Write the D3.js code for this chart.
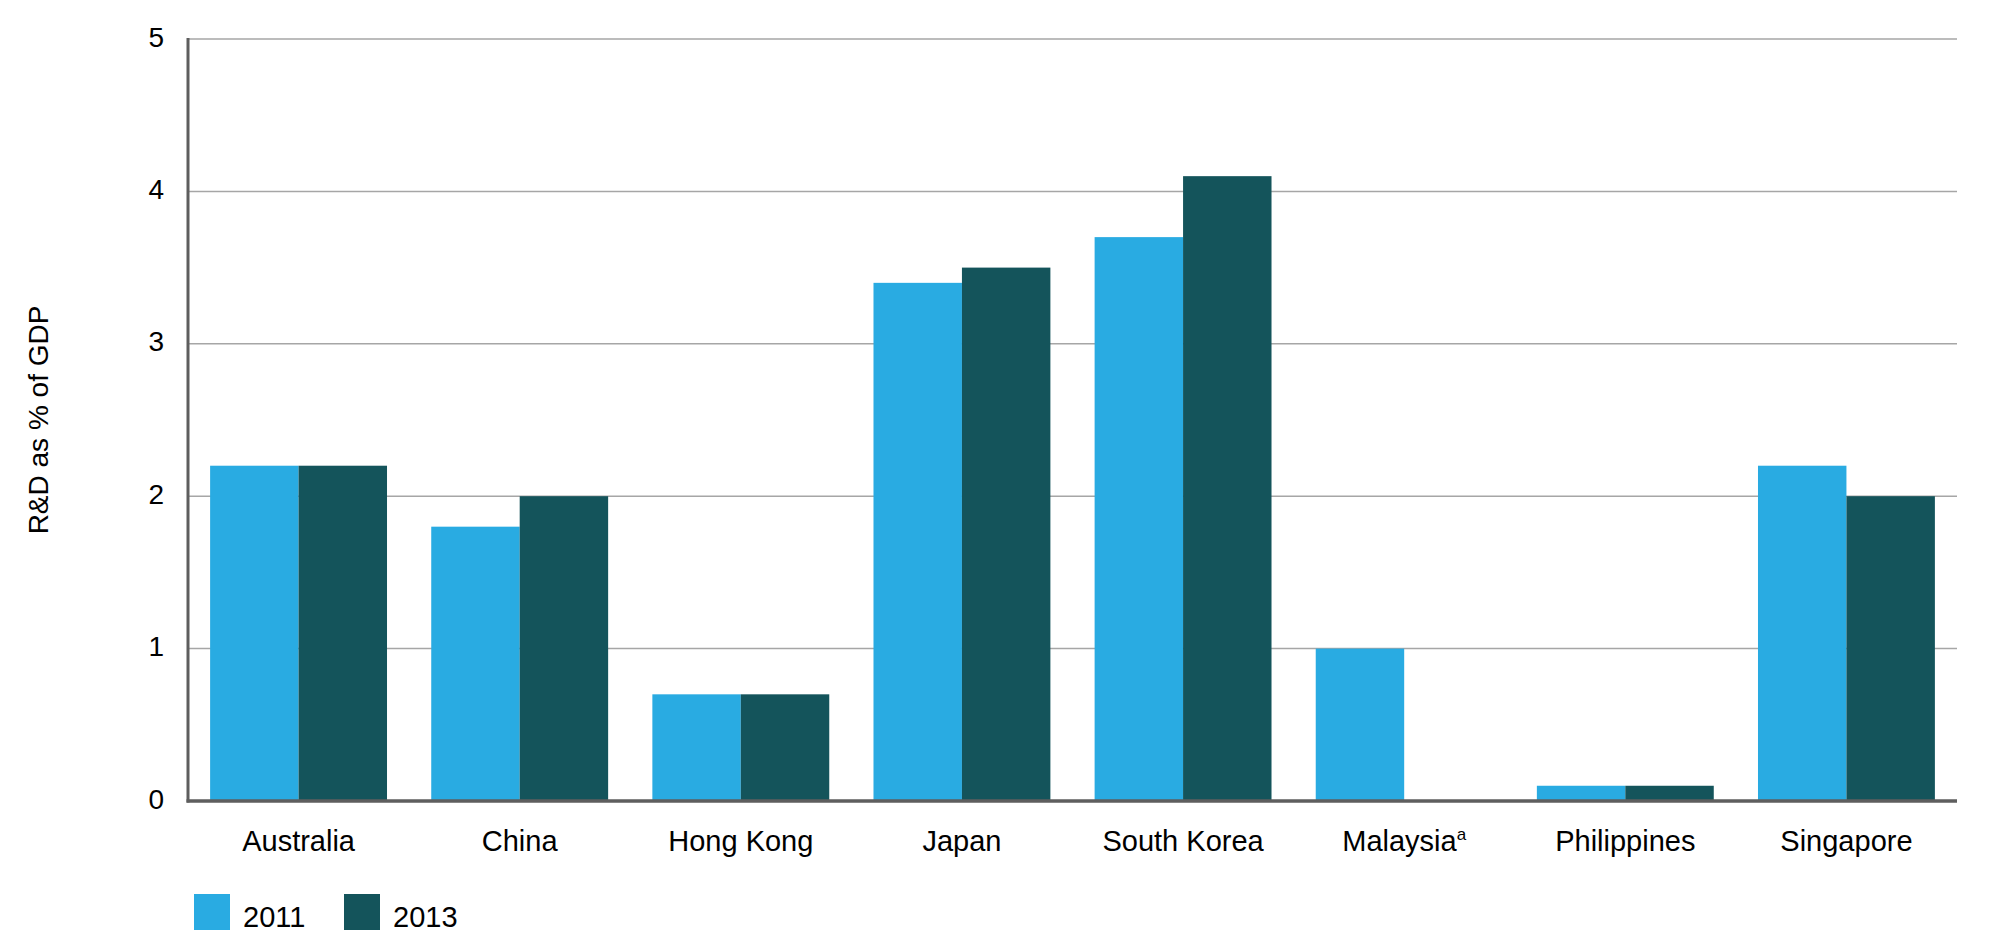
<!DOCTYPE html>
<html>
<head>
<meta charset="utf-8">
<script src="https://cdn.jsdelivr.net/npm/d3@7"></script>
<style>
  html, body { margin: 0; padding: 0; background: #ffffff; }
  svg { display: block; font-family: "Liberation Sans", Arial, Helvetica, sans-serif; }
</style>
</head>
<body>
<svg id="chart" width="2009" height="947"></svg>
<script>
const categories = ["Australia", "China", "Hong Kong", "Japan", "South Korea", "Malaysia", "Philippines", "Singapore"];
const footnotes = ["", "", "", "", "", "a", "", ""];
const seriesNames = ["2011", "2013"];
const values2011 = [2.2, 1.8, 0.7, 3.4, 3.7, 1.0, 0.1, 2.2];
const values2013 = [2.2, 2.0, 0.7, 3.5, 4.1, null, 0.1, 2.0];
const yTicks = [0, 1, 2, 3, 4, 5];
const yLabel = "R&D as % of GDP";
const colors = ["#29abe2", "#14545b"];

const svg = d3.select("#chart");
const margin = { left: 188, right: 2009 - 1957, top: 39, bottom: 947 - 801 };
const W = 2009, H = 947;

const x = d3.scaleBand().domain(categories)
  .range([margin.left, W - margin.right])
  .paddingInner(0.2).paddingOuter(0.1);
const xs = d3.scaleBand().domain(seriesNames).range([0, x.bandwidth()]).padding(0);
const y = d3.scaleLinear().domain([0, 5]).range([H - margin.bottom, margin.top]);

// gridlines
svg.append("g").selectAll("line").data(yTicks.filter(d => d > 0)).join("line")
  .attr("x1", margin.left).attr("x2", W - margin.right)
  .attr("y1", d => y(d)).attr("y2", d => y(d))
  .attr("stroke", "#a6a6a6").attr("stroke-width", 1.5);

// bars
const rows = categories.map((c, i) => ({ c, vals: [values2011[i], values2013[i]] }));
const g = svg.append("g").selectAll("g").data(rows).join("g")
  .attr("transform", d => `translate(${x(d.c)},0)`);
g.selectAll("rect").data(d => d.vals.map((v, j) => ({ v, s: seriesNames[j], j })).filter(e => e.v != null))
  .join("rect")
  .attr("x", e => xs(e.s))
  .attr("width", xs.bandwidth())
  .attr("y", e => y(e.v))
  .attr("height", e => y(0) - y(e.v))
  .attr("fill", e => colors[e.j]);

// y axis
const yAxis = d3.axisLeft(y).tickValues(yTicks).tickSize(0).tickPadding(24).tickFormat(d3.format("d"));
const ya = svg.append("g").attr("transform", `translate(${margin.left},0)`).call(yAxis);
ya.select(".domain").remove();
ya.selectAll("text").attr("font-size", 28).attr("fill", "#000")
  .attr("font-family", "Liberation Sans, Arial, sans-serif")
  .attr("dy", "0.25em");
svg.append("line").attr("x1", margin.left).attr("x2", margin.left)
  .attr("y1", y(5) - 1).attr("y2", y(0) + 1.5)
  .attr("stroke", "#5e5e5e").attr("stroke-width", 3);

// x axis
const xAxis = d3.axisBottom(x).tickSize(0).tickPadding(0);
const xa = svg.append("g").attr("transform", `translate(0,${y(0)})`).call(xAxis);
xa.select(".domain").remove();
xa.selectAll("text").each(function(d, i) {
  const t = d3.select(this);
  t.text(null).attr("font-size", 29).attr("fill", "#000")
    .attr("font-family", "Liberation Sans, Arial, sans-serif")
    .attr("y", 50).attr("dy", null);
  t.append("tspan").text(d);
  if (footnotes[i]) {
    t.append("tspan").text(footnotes[i]).attr("font-size", 17).attr("dy", -11);
  }
});
svg.append("line").attr("x1", margin.left - 1.5).attr("x2", W - margin.right)
  .attr("y1", y(0)).attr("y2", y(0))
  .attr("stroke", "#5e5e5e").attr("stroke-width", 3.5);

// y label
svg.append("text")
  .attr("transform", `translate(48,${(y(0) + y(5)) / 2}) rotate(-90)`)
  .attr("text-anchor", "middle")
  .attr("font-size", 28).attr("fill", "#000")
  .text(yLabel);

// legend
const leg = svg.append("g").selectAll("g").data(seriesNames).join("g")
  .attr("transform", (d, i) => `translate(${194 + i * 150},894)`);
leg.append("rect").attr("width", 36).attr("height", 36).attr("fill", (d, i) => colors[i]);
leg.append("text").attr("x", 49).attr("y", 33).attr("font-size", 29).attr("fill", "#000").text(d => d);
</script>
</body>
</html>
